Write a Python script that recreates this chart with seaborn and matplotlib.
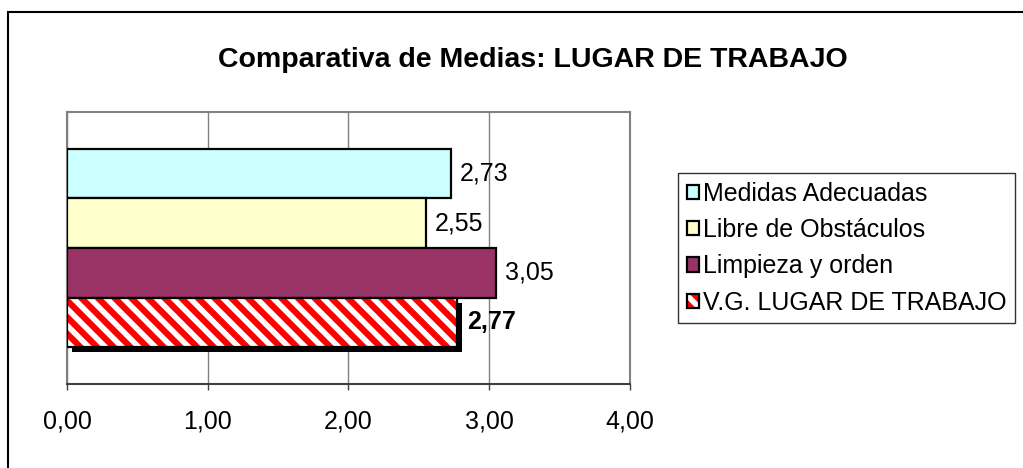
import matplotlib
matplotlib.use('Agg')
import matplotlib.pyplot as plt
from matplotlib.patches import Rectangle, Patch
from matplotlib.ticker import FuncFormatter
from matplotlib.transforms import offset_copy
import seaborn as sns
import pandas as pd

# Data
series = ['Medidas Adecuadas', 'Libre de Obstáculos', 'Limpieza y orden', 'V.G. LUGAR DE TRABAJO']
medias = [2.73, 2.55, 3.05, 2.77]
colores = ['#CCFFFF', '#FFFFCC', '#993366', '#FFFFFF']
x_ticks = [0, 1, 2, 3, 4]

df = pd.DataFrame({'serie': series, 'media': medias})

sns.set_style('white')
plt.rcParams['font.family'] = ['Liberation Sans', 'DejaVu Sans']
plt.rcParams['text.color'] = 'black'
plt.rcParams['xtick.color'] = 'black'
plt.rcParams['hatch.linewidth'] = 4.5

FS = 18
fig = plt.figure(figsize=(10.23, 4.68), dpi=100)
ax = fig.add_axes([67 / 1023, 1 - 384 / 468, 563 / 1023, 272 / 468])

sns.barplot(data=df, x='media', y='serie', hue='serie', palette=colores,
            saturation=1, orient='h', width=1.0, edgecolor='black', linewidth=1.6,
            legend=False, ax=ax, zorder=3)

# the overall value bar: red stripes, black outline and a black drop shadow
vg = ax.patches[3]
vg.set_edgecolor('#FF0000')
vg.set_linewidth(0)
vg.set_hatch('\\\\')
sombra = offset_copy(ax.transData, fig=fig, x=5, y=-5, units='dots')
ax.add_patch(Rectangle(vg.get_xy(), vg.get_width(), vg.get_height(),
                       facecolor='black', edgecolor='none', zorder=2.9, transform=sombra))
ax.add_patch(Rectangle(vg.get_xy(), vg.get_width(), vg.get_height(),
                       fill=False, edgecolor='black', linewidth=1.6, zorder=4))

ax.set_xlim(0, 4)
ax.set_ylim(3.5 + 0.745, -0.5 - 0.745)
ax.set_xticks(x_ticks)
ax.xaxis.set_major_formatter(FuncFormatter(lambda v, p: f'{v:.2f}'.replace('.', ',')))
ax.set_yticks([])
ax.set_xlabel('')
ax.set_ylabel('')
ax.tick_params(axis='x', bottom=True, length=4, width=1, color='#404040',
               labelcolor='black', labelsize=FS, pad=14)
ax.grid(axis='x', color='#808080', linewidth=1, zorder=0)
for s in ['top', 'right', 'left']:
    ax.spines[s].set_color('#808080')
    ax.spines[s].set_linewidth(1.5)
ax.spines['bottom'].set_color('#404040')
ax.spines['bottom'].set_linewidth(1.5)

for i, (v, p) in enumerate(zip(medias, ax.patches)):
    y = p.get_y() + p.get_height() / 2
    lbl = f'{v:.2f}'.replace('.', ',')
    if i == 3:
        ax.text(v + 0.07, y, lbl, va='center', ha='left', fontsize=FS, fontweight='bold')
    else:
        ax.text(v + 0.06, y, lbl, va='center', ha='left', fontsize=FS)

handles = [Patch(facecolor=c, edgecolor='black', linewidth=1.6) for c in colores[:3]]
handles.append((Patch(facecolor='white', edgecolor='#FF0000', linewidth=0, hatch='\\\\'),
                Patch(fill=False, edgecolor='black', linewidth=1.6)))
leg = fig.legend(handles, series, loc='upper left', bbox_to_anchor=(678 / 1023, 1 - 173 / 468),
                 fontsize=FS, frameon=True, fancybox=False, edgecolor='black',
                 handlelength=0.5, handleheight=0.5, handletextpad=0.15,
                 borderpad=0.35, labelspacing=0.49, borderaxespad=0)
leg.get_frame().set_linewidth(1)

fig.text(533 / 1023, 1 - 60 / 468, 'Comparativa de Medias: LUGAR DE TRABAJO',
         ha='center', va='center', fontsize=20.5, fontweight='bold')

# outer chart border, cropped at right and bottom
fig.patches.append(Rectangle((8 / 1023, -0.2), 1.2, 0.2 + 1 - 12 / 468,
                             transform=fig.transFigure, fill=False, edgecolor='black',
                             linewidth=1.5))

fig.savefig('out.png', dpi=100)
